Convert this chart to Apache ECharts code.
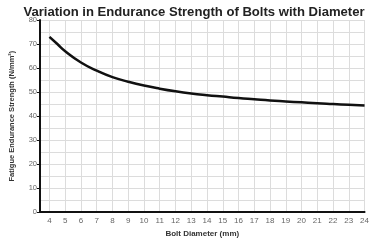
<!DOCTYPE html>
<html>
<head>
<meta charset="utf-8">
<script src="https://cdn.jsdelivr.net/npm/echarts@6/dist/echarts.min.js"></script>
<style>
html, body { margin: 0; padding: 0; background: #fff; }
#chart { width: 372px; height: 243px; }
</style>
</head>
<body>
<div id="chart"></div>
<script>
// bolt diameter (mm) and fatigue endurance strength (N/mm2)
var diameters = [4, 4.5, 5, 6, 7, 8, 9, 10, 11, 12, 13, 14, 15, 16, 17, 18, 19, 20, 21, 22, 23, 24];
var strength = [73, 70, 67, 62.3, 58.9, 56.2, 54.3, 52.7, 51.4, 50.3, 49.4, 48.7, 48.1, 47.5, 47, 46.5, 46.1, 45.7, 45.3, 45, 44.7, 44.4];
var xTicks = [4, 5, 6, 7, 8, 9, 10, 11, 12, 13, 14, 15, 16, 17, 18, 19, 20, 21, 22, 23, 24];

var points = diameters.map(function (d, i) { return [d, strength[i]]; });

var chart = echarts.init(document.getElementById('chart'));
var font = '"Liberation Sans", Arial, sans-serif';
var option = {
    animation: false,
    title: {
        text: 'Variation in Endurance Strength of Bolts with Diameter',
        left: 189,
        textAlign: 'center',
        top: 1,
        textStyle: { fontSize: 13.1, fontWeight: 'bold', color: '#222', fontFamily: font }
    },
    grid: { left: 38, right: 4, top: 20, bottom: 27 },
    xAxis: {
        type: 'value',
        min: 3.4,
        max: 24,
        name: 'Bolt Diameter (mm)',
        nameLocation: 'middle',
        nameGap: 17,
        nameTextStyle: { fontSize: 8, fontWeight: 'bold', color: '#333', fontFamily: font },
        axisLine: { lineStyle: { color: '#111', width: 2 } },
        axisTick: { show: false, customValues: xTicks },
        axisLabel: { customValues: xTicks, fontSize: 8, color: '#666', margin: 5, fontFamily: font },
        splitLine: { show: true, lineStyle: { color: '#dcdcdc', width: 1 } }
    },
    yAxis: {
        type: 'value',
        min: 0,
        max: 80,
        interval: 10,
        name: 'Fatigue Endurance Strength (N/mm²)',
        nameLocation: 'middle',
        nameGap: 24,
        nameTextStyle: { fontSize: 7.5, fontWeight: 'bold', color: '#333', fontFamily: font },
        axisLine: { show: true, lineStyle: { color: '#111', width: 2 } },
        axisTick: { show: true, length: 3, lineStyle: { color: '#111' } },
        axisLabel: { fontSize: 7.5, color: '#666', margin: 3, fontFamily: font },
        splitLine: { show: true, lineStyle: { color: '#dcdcdc', width: 1 } },
        minorTick: { show: false, splitNumber: 2 },
        minorSplitLine: { show: true, lineStyle: { color: '#dcdcdc', width: 1 } }
    },
    series: [{
        type: 'line',
        data: points,
        smooth: true,
        showSymbol: false,
        lineStyle: { color: '#111', width: 2.5 }
    }]
};
chart.setOption(option);
</script>
</body>
</html>
